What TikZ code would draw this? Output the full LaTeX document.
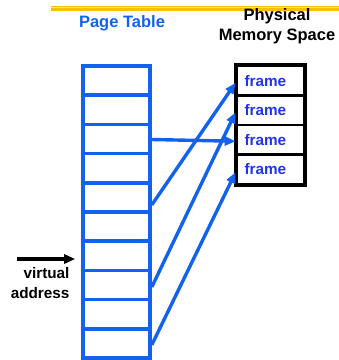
\documentclass[tikz,border=0pt]{standalone}
\usepackage{fontspec}
\setmainfont{Liberation Sans}
\usetikzlibrary{arrows.meta,calc}
\definecolor{ptblue}{RGB}{18,98,240}
\definecolor{frblue}{RGB}{32,52,232}
\definecolor{rulegold}{RGB}{248,192,0}
\definecolor{rulelight}{RGB}{255,226,120}
\tikzset{
  x=1pt, y=-1pt,
  ptrow/.style={draw=ptblue, line width=3.6pt, minimum width=67pt, minimum height=29.2pt, inner sep=0pt, fill=white},
  frcell/.style={draw=black, line width=2.8pt, minimum height=29.5pt, text width=52pt, inner xsep=7.5pt, inner ysep=0pt, align=left, font=\bfseries\fontsize{15.3}{17}\selectfont, text=frblue},
  maparrow/.style={draw=ptblue, line width=3.4pt, -{Triangle[length=11pt,width=9pt]}},
  title/.style={font=\bfseries\fontsize{16.5}{20.5}\selectfont, align=center},
  label/.style={font=\bfseries\fontsize{15.3}{20}\selectfont, align=right}
}
\begin{document}
\begin{tikzpicture}
\useasboundingbox (0,0) rectangle (339,360);
% header rule
\draw[rulegold, line width=5pt] (51,8.2) -- (339,8.2);
\draw[rulelight, line width=0.8pt] (51,7.6) -- (339,7.6);
% titles
\node[title, text=ptblue] (pttitle) at (122,23) {Page Table};
\node[title, text=black] (pmtitle) at (277,26) {Physical\\Memory Space};
% page table rows
\foreach \i in {1,...,10} {
  \node[ptrow] (r\i) at (116.5,{66+29.2*(\i-0.5)}) {};
}
% physical frames
\foreach \j in {1,...,4} {
  \node[frcell] (f\j) at (270.5,{66+29.5*(\j-0.5)}) {frame};
}
\draw[black, line width=4pt] (f1.north west) rectangle (f4.south east);
% page table entries pointing to frames
\draw[maparrow] ([yshift=-0.5pt]r3.east) -- ([yshift=-1.5pt]f3.west);
\draw[maparrow] ([yshift=-7.5pt]r5.east) -- ([yshift=-2pt]f1.west);
\draw[maparrow] ([yshift=-2pt]r8.east) -- ([yshift=-2pt]f2.west);
\draw[maparrow] ([yshift=-1.5pt]r10.east) -- ([yshift=-3pt]f4.west);
% virtual address input
\coordinate (vastart) at (17,259);
\draw[black, line width=3.4pt, -{Triangle[length=11pt,width=9pt]}, shorten >=6pt] (vastart) -- (vastart -| r7.west);
\node[label, anchor=east] (valabel) at (73,283) {virtual\\address};
\end{tikzpicture}
\end{document}
